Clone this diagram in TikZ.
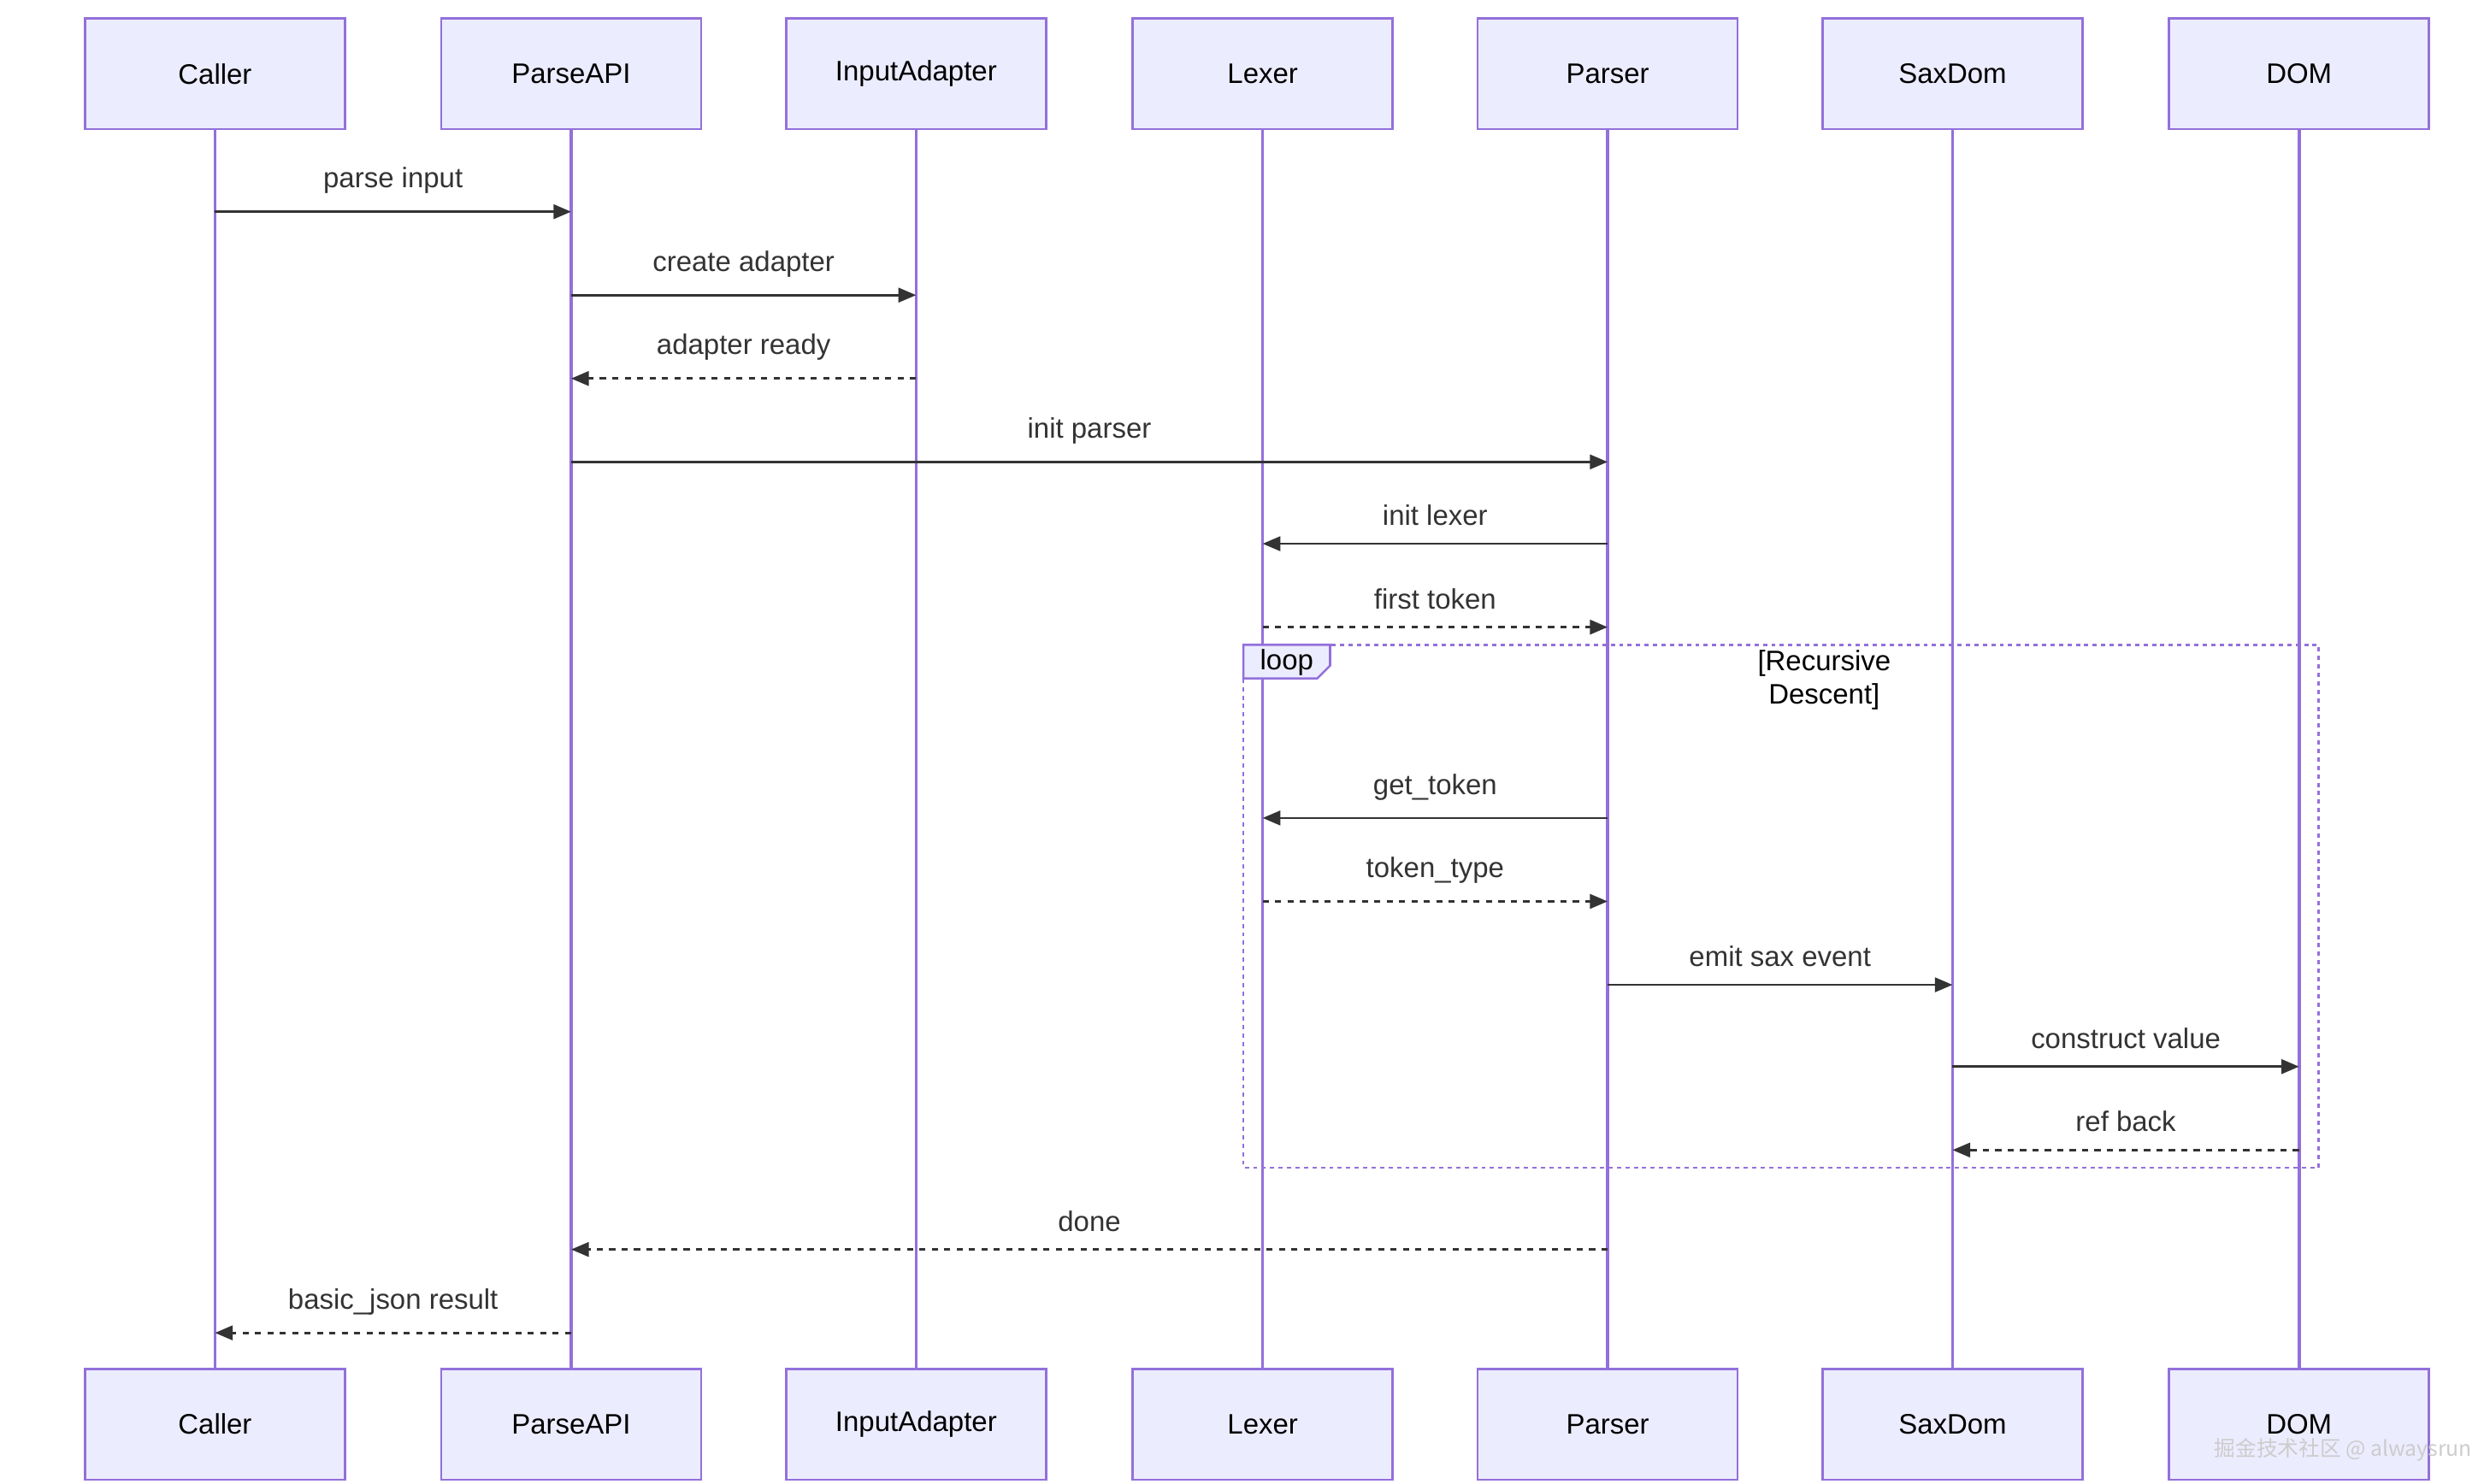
\documentclass[tikz,border=0pt]{standalone}
\usepackage{fontspec}
\setmainfont{Liberation Sans}
\newfontfamily\cjk{Noto Sans CJK SC}
\usetikzlibrary{arrows.meta,calc}
\definecolor{boxfill}{HTML}{ECECFF}
\definecolor{boxline}{HTML}{9370DB}
\definecolor{msgline}{HTML}{333333}
\tikzset{
  actor/.style={draw=boxline, fill=boxfill, line width=0.8pt, minimum width=3.24cm, minimum height=1.38cm, font=\fontsize{10}{12}\selectfont},
  life/.style={draw=boxline, line width=1.1pt},
  msg/.style={draw=msgline, line width=0.8pt, -{Triangle[length=0.22cm,width=0.18cm]}},
  reply/.style={msg, dash pattern=on 2.2pt off 2.2pt},
  lbl/.style={font=\fontsize{10}{12}\selectfont, text=msgline}
}
\begin{document}
\begin{tikzpicture}[x=0.02cm, y=-0.02cm]
\useasboundingbox (0,0) rectangle (1552,925);
% participants
\foreach \name/\x in {Caller/134, ParseAPI/356, InputAdapter/571, Lexer/787, Parser/1002, SaxDom/1217, DOM/1433} {
  \node[actor] (\name-top) at (\x,46) {\name};
  \node[actor] (\name-bot) at (\x,888) {\name};
}
% lifelines
\foreach \name in {Caller, ParseAPI, InputAdapter, Lexer, Parser, SaxDom, DOM}
  \draw[life] (\name-top) -- (\name-bot);
% loop frame
\draw[boxline, line width=0.8pt, dash pattern=on 1.5pt off 1.5pt] (775,402) rectangle (1445,728);
\draw[boxline, fill=boxfill, line width=0.8pt] (775,402) -- (829,402) -- (829,415) -- (821,423) -- (775,423) -- cycle;
\node[lbl, text=black] (looplbl) at (802,413) {loop};
\node[lbl, text=black, align=center] (loopcond) at (1137,424) {[Recursive\\Descent]};
% messages
\foreach \i/\from/\to/\y/\sty/\txt in {
  1/Caller/ParseAPI/132/msg/parse input,
  2/ParseAPI/InputAdapter/184/msg/create adapter,
  3/InputAdapter/ParseAPI/236/reply/adapter ready,
  4/ParseAPI/Parser/288/msg/init parser,
  5/Parser/Lexer/339/msg/init lexer,
  6/Lexer/Parser/391/reply/first token,
  7/Parser/Lexer/510/msg/get\_token,
  8/Lexer/Parser/562/reply/token\_type,
  9/Parser/SaxDom/614/msg/emit sax event,
  10/SaxDom/DOM/665/msg/construct value,
  11/DOM/SaxDom/717/reply/ref back,
  12/Parser/ParseAPI/779/reply/done,
  13/ParseAPI/Caller/831/reply/basic\_json result} {
  \coordinate (m\i-a) at (\from-top.south |- 0,\y);
  \coordinate (m\i-b) at (\to-top.south |- 0,\y);
  \draw[\sty] (m\i-a) -- (m\i-b);
  \node[lbl, above=0.1cm] (t\i) at ($(m\i-a)!0.5!(m\i-b)$) {\txt};
}
\node[text=white!60!gray, font=\cjk\fontsize{7.5}{9}\selectfont, anchor=east] (mark) at (1547,904) {掘金技术社区 @ alwaysrun};
\end{tikzpicture}
\end{document}
